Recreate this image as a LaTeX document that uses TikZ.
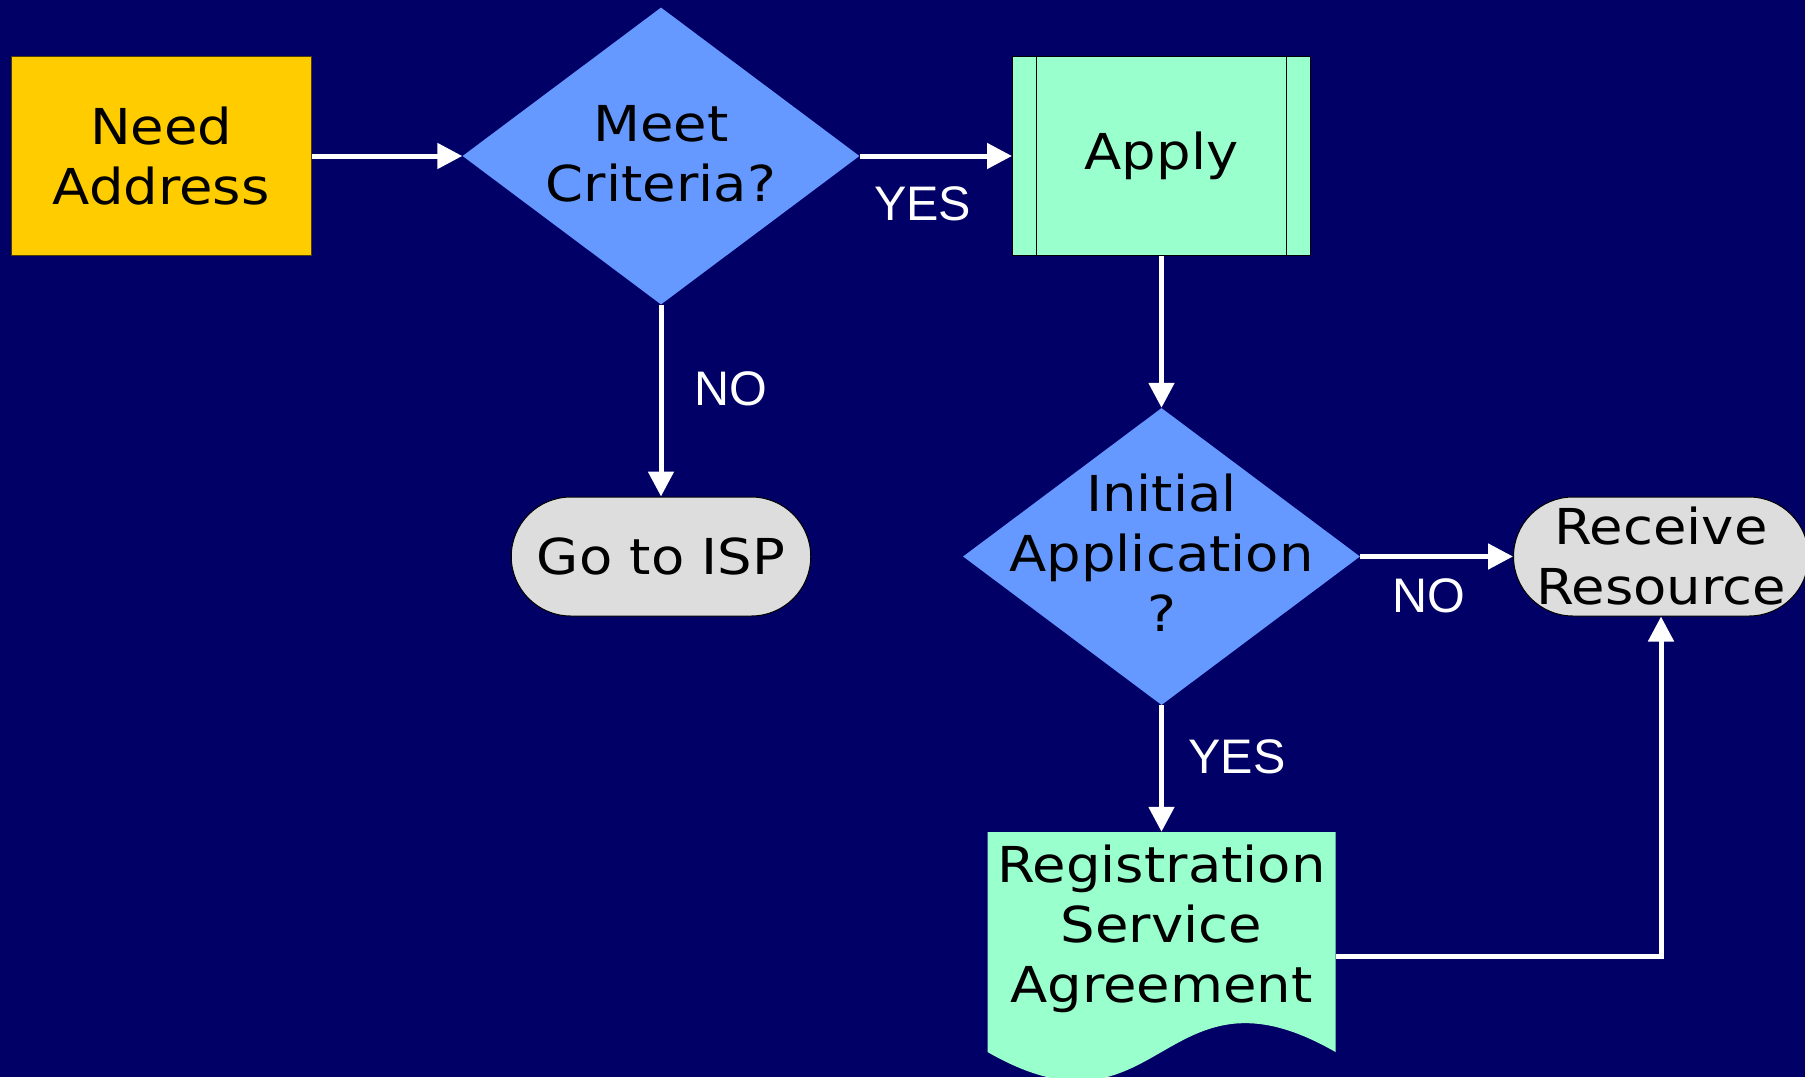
\documentclass[tikz,border=0pt]{standalone}
\usepackage{fontspec}
\setmainfont[FakeStretch=1.1]{DejaVu Sans}
\newfontfamily\lblfont{Liberation Sans}
\usetikzlibrary{shapes.geometric,arrows.meta}
\definecolor{bgnavy}{HTML}{000066}
\definecolor{startyellow}{HTML}{FFCC00}
\definecolor{decblue}{HTML}{6699FF}
\definecolor{procgreen}{HTML}{99FFCC}
\definecolor{termgray}{HTML}{DDDDDD}
\tikzset{
  boxtext/.style={font=\fontsize{49.5pt}{60pt}\selectfont, align=center, text=black},
  startbox/.style={rectangle, fill=startyellow, draw=black!70!startyellow, line width=1pt,
    minimum width=299.5pt, minimum height=199pt, inner sep=0pt, boxtext},
  procbox/.style={rectangle, fill=procgreen, draw=black, line width=1pt,
    minimum width=298pt, minimum height=199pt, inner sep=0pt, boxtext},
  decnode/.style={diamond, fill=decblue, inner sep=0pt, minimum width=397pt, minimum height=297pt},
  termnode/.style={rectangle, rounded corners=59.5pt, fill=termgray, draw=black, line width=1pt,
    minimum height=119pt, inner sep=0pt, boxtext},
  docnode/.style={rectangle, inner sep=0pt, minimum width=348pt, minimum height=220pt},
  conn/.style={draw=white, line width=5pt, -{Triangle[length=25pt,width=25pt]}},
  plainconn/.style={draw=white, line width=5pt},
  lbl/.style={font=\lblfont\fontsize{48.5pt}{55pt}\selectfont, text=white, inner sep=0pt, anchor=base},
  sideline/.style={draw=black, line width=1pt}
}
\begin{document}
\begin{tikzpicture}[x=1pt, y=-1pt]
\useasboundingbox (0,0) rectangle (1805,1077);
\fill[bgnavy] (0,0) rectangle (1805,1077);

% nodes
\node[startbox] (need) at (161.25,156) {Need\\Address};
\node[decnode, label={[boxtext, name=meet-t, yshift=2.4pt]center:{Meet\\Criteria?}}] (meet) at (661,156) {};
\node[procbox] (apply) at (1161.5,156) {Apply};
\draw[sideline] ([xshift=24.7pt]apply.north west) -- ([xshift=24.7pt]apply.south west);
\draw[sideline] ([xshift=-24.7pt]apply.north east) -- ([xshift=-24.7pt]apply.south east);
\node[termnode, minimum width=299.5pt] (isp) at (661,556.5) {Go to ISP};
\node[decnode, label={[boxtext, name=init-t, yshift=3.6pt]center:{Initial\\Application\\?}}] (init) at (1161.5,556.5) {};
\node[termnode, minimum width=295pt] (recv) at (1661,556.5) {Receive\\Resource};

\fill[procgreen] (987.5,832) -- (1335.5,832) -- (1335.5,1052)
  .. controls (1161.5,952) and (1161.5,1152) .. (987.5,1052) -- cycle;
\node[docnode, label={[boxtext, name=reg-t, yshift=13.45pt]center:{Registration\\Service\\Agreement}}] (reg) at (1161.5,942) {};

% connectors
\draw[conn] (need) -- (meet);
\draw[conn] (meet) -- (apply);
\draw[conn] (meet) -- (isp);
\draw[conn] (apply) -- (init);
\draw[conn] (init) -- (recv);
\draw[conn] (init) -- (reg);
\draw[conn] ([yshift=-14.6pt]reg.east) -| (recv.south);

% labels
\node[lbl] (yes1) at (922.7,220.7) {YES};
\node[lbl] (no1) at (730.5,405) {NO};
\node[lbl] (no2) at (1428.7,612.3) {NO};
\node[lbl] (yes2) at (1237,773.3) {YES};
\end{tikzpicture}
\end{document}
